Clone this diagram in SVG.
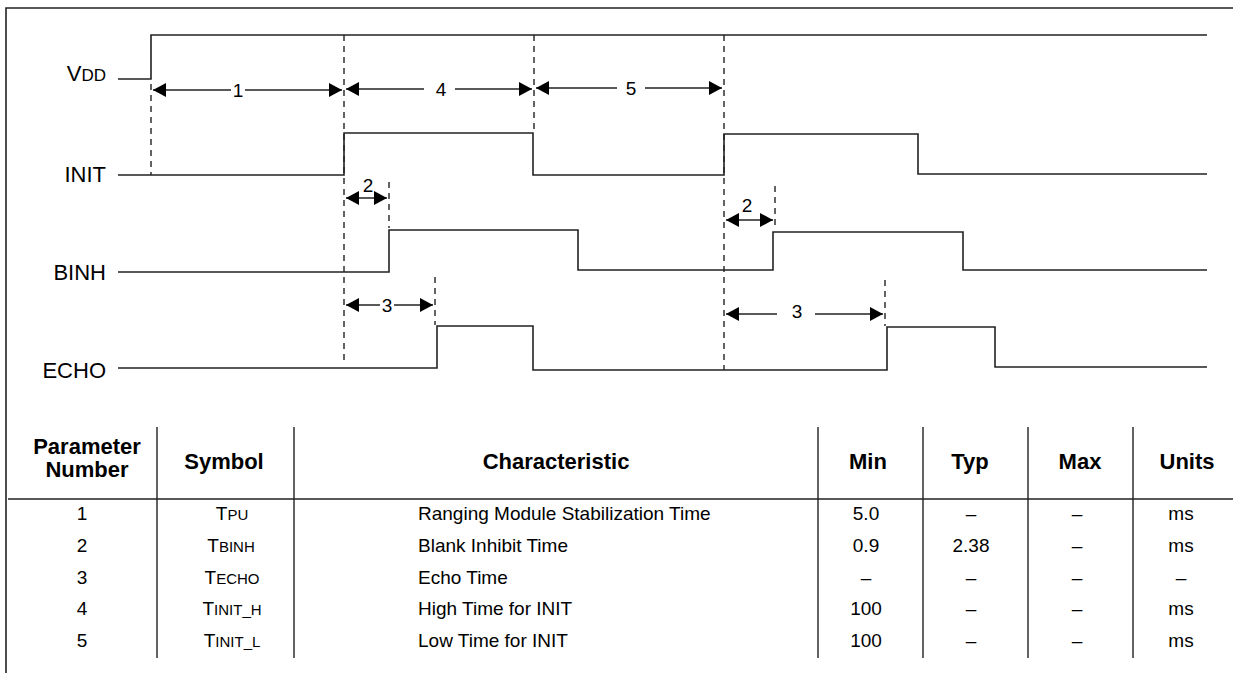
<svg xmlns="http://www.w3.org/2000/svg" width="1233" height="673" viewBox="0 0 1233 673">
<defs>
<marker id="ah" markerWidth="14" markerHeight="14" refX="13" refY="7" orient="auto-start-reverse" markerUnits="userSpaceOnUse">
<path d="M0,0 L13,7 L0,14 Z" fill="#000"/>
</marker>
<style>
.sig{fill:none;stroke:#222;stroke-width:1.6}
.dash{fill:none;stroke:#222;stroke-width:1.4;stroke-dasharray:6,5}
.arr{fill:none;stroke:#222;stroke-width:1.4}
.lbl{font-family:"Liberation Sans",Arial,sans-serif;font-size:22px;fill:#000;text-anchor:end}
.num{font-family:"Liberation Sans",Arial,sans-serif;font-size:19px;fill:#000;text-anchor:middle}
.th{font-family:"Liberation Sans",Arial,sans-serif;font-size:22px;font-weight:bold;fill:#000;text-anchor:middle}
.td{font-family:"Liberation Sans",Arial,sans-serif;font-size:19px;fill:#000;text-anchor:middle}
.tl{font-family:"Liberation Sans",Arial,sans-serif;font-size:19px;fill:#000}
.grid{stroke:#222;stroke-width:1.4}
.sc{font-size:15px}
.scl{font-size:17px}
</style>
</defs>
<rect width="1233" height="673" fill="#fff"/>
<path d="M6,673 V8 H1233" fill="none" stroke="#222" stroke-width="1.6"/>

<g id="vdd">
<text class="lbl" x="106" y="81">V<tspan class="scl">DD</tspan></text>
<path class="sig" d="M118,79 H151 V35 H1207"/>
</g>
<g id="init">
<text class="lbl" x="106" y="182">INIT</text>
<path class="sig" d="M118,175 H344 V133 H533 V175 H724 V134 H918 V174 H1207"/>
</g>
<g id="binh">
<text class="lbl" x="106" y="280">BINH</text>
<path class="sig" d="M118,272 H389 V230 H578 V270 H773 V232 H963 V270 H1207"/>
</g>
<g id="echo">
<text class="lbl" x="106" y="378">ECHO</text>
<path class="sig" d="M118,368 H437 V326 H533 V370 H887 V327 H995 V367 H1207"/>
</g>

<g id="connectors">
<path class="dash" d="M151,84 V175"/>
<path class="dash" d="M344,35 V362"/>
<path class="dash" d="M534,35 V133"/>
<path class="dash" d="M724,35 V370"/>
<path class="dash" d="M389,182 V228"/>
<path class="dash" d="M435,277 V325"/>
<path class="dash" d="M775,186 V230"/>
<path class="dash" d="M885,280 V326"/>

<path class="arr" marker-start="url(#ah)" d="M153,90 H231"/>
<path class="arr" marker-end="url(#ah)" d="M245,90 H342"/>
<text class="num" x="238" y="97">1</text>

<path class="arr" marker-start="url(#ah)" d="M346,89 H424"/>
<path class="arr" marker-end="url(#ah)" d="M455,89 H532"/>
<text class="num" x="441" y="96">4</text>

<path class="arr" marker-start="url(#ah)" d="M536,88 H617"/>
<path class="arr" marker-end="url(#ah)" d="M645,88 H722"/>
<text class="num" x="631" y="95">5</text>

<path class="arr" marker-start="url(#ah)" marker-end="url(#ah)" d="M346,198 H387"/>
<text class="num" x="368" y="192">2</text>

<path class="arr" marker-start="url(#ah)" marker-end="url(#ah)" d="M726,220 H773"/>
<text class="num" x="747" y="212">2</text>

<path class="arr" marker-start="url(#ah)" d="M346,305 H380"/>
<path class="arr" marker-end="url(#ah)" d="M394,305 H433"/>
<text class="num" x="387" y="312">3</text>

<path class="arr" marker-start="url(#ah)" d="M726,314 H777"/>
<path class="arr" marker-end="url(#ah)" d="M815,314 H883"/>
<text class="num" x="797" y="318">3</text>
</g>

<g id="table">
<path class="grid" d="M157,427 V658 M294,427 V658 M818,427 V658 M923,427 V658 M1028,427 V658 M1133,427 V658 M8,499 H1233"/>
<text class="th" x="87" y="454">Parameter</text>
<text class="th" x="87" y="477">Number</text>
<text class="th" x="224" y="469">Symbol</text>
<text class="th" x="556" y="469">Characteristic</text>
<text class="th" x="868" y="469">Min</text>
<text class="th" x="970" y="469">Typ</text>
<text class="th" x="1080" y="469">Max</text>
<text class="th" x="1187" y="469">Units</text>

<text class="td" x="82" y="520">1</text>
<text class="td" x="82" y="552">2</text>
<text class="td" x="82" y="584">3</text>
<text class="td" x="82" y="615">4</text>
<text class="td" x="82" y="647">5</text>

<text class="td" x="232" y="520">T<tspan class="sc">PU</tspan></text>
<text class="td" x="231" y="552">T<tspan class="sc">BINH</tspan></text>
<text class="td" x="232" y="584">T<tspan class="sc">ECHO</tspan></text>
<text class="td" x="232" y="615">T<tspan class="sc">INIT_H</tspan></text>
<text class="td" x="232" y="647">T<tspan class="sc">INIT_L</tspan></text>

<text class="tl" x="418" y="520">Ranging Module Stabilization Time</text>
<text class="tl" x="418" y="552">Blank Inhibit Time</text>
<text class="tl" x="418" y="584">Echo Time</text>
<text class="tl" x="418" y="615">High Time for INIT</text>
<text class="tl" x="418" y="647">Low Time for INIT</text>

<text class="td" x="866" y="520">5.0</text>
<text class="td" x="866" y="552">0.9</text>
<text class="td" x="866" y="584">–</text>
<text class="td" x="866" y="615">100</text>
<text class="td" x="866" y="647">100</text>

<text class="td" x="971" y="520">–</text>
<text class="td" x="971" y="552">2.38</text>
<text class="td" x="971" y="584">–</text>
<text class="td" x="971" y="615">–</text>
<text class="td" x="971" y="647">–</text>

<text class="td" x="1077" y="520">–</text>
<text class="td" x="1077" y="552">–</text>
<text class="td" x="1077" y="584">–</text>
<text class="td" x="1077" y="615">–</text>
<text class="td" x="1077" y="647">–</text>

<text class="td" x="1181" y="520">ms</text>
<text class="td" x="1181" y="552">ms</text>
<text class="td" x="1181" y="584">–</text>
<text class="td" x="1181" y="615">ms</text>
<text class="td" x="1181" y="647">ms</text>
</g>
</svg>
